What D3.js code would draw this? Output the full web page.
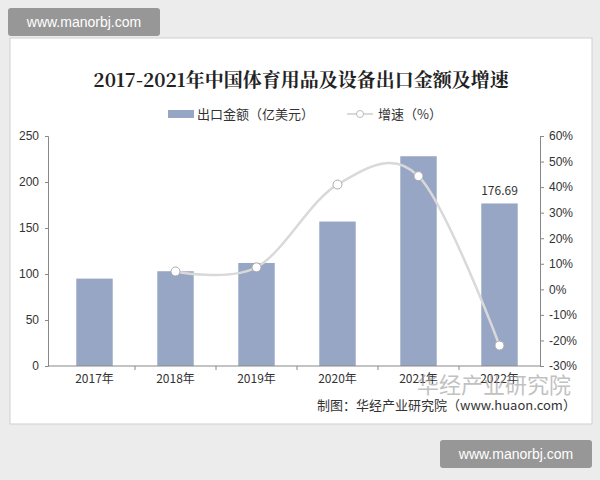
<!DOCTYPE html>
<html><head><meta charset="utf-8">
<script src="https://cdn.jsdelivr.net/npm/d3@7"></script>
<style>body{margin:0;background:#ececec;font-family:"Noto Sans CJK SC","Liberation Sans",sans-serif}</style>
</head><body><div id="chart"></div>
<script>
const years = ['2017年', '2018年', '2019年', '2020年', '2021年', '2022年'];
const exportValues = [95, 103, 112, 157, 228, 176.69];
const growthYears = ['2018年', '2019年', '2020年', '2021年', '2022年'];
const growthRates = [7, 8.6, 41, 44.3, -22];
const leftTicks = [0, 50, 100, 150, 200, 250];
const rightTicks = [-30, -20, -10, 0, 10, 20, 30, 40, 50, 60];

const svg = d3.select('#chart').append('svg').attr('width', 600).attr('height', 480);

// page / card
svg.append('rect').attr('width', 600).attr('height', 480).attr('fill', '#ececec');
svg.append('rect').attr('x', 10).attr('y', 38).attr('width', 582).attr('height', 386)
  .attr('fill', '#fff').attr('stroke', '#cfcfcf');

const x = d3.scaleBand().domain(years).range([54, 540]).paddingInner(0.55).paddingOuter(0.275);
const yL = d3.scaleLinear().domain([0, 250]).range([366, 136]);
const yR = d3.scaleLinear().domain([-30, 60]).range([366, 136]);

svg.append('text').attr('x', 301).attr('y', 87).attr('text-anchor', 'middle')
  .attr('font-family', '"Noto Serif CJK SC","DejaVu Serif",serif').attr('font-weight', 'bold')
  .attr('font-size', 19).attr('fill', '#222').text('2017-2021年中国体育用品及设备出口金额及增速');

// legend
svg.append('rect').attr('x', 168).attr('y', 110).attr('width', 26).attr('height', 8).attr('fill', '#98a6c6');
svg.append('text').attr('x', 197).attr('y', 119).attr('font-size', 13).attr('fill', '#333').text('出口金额（亿美元）');
svg.append('line').attr('x1', 347).attr('x2', 373).attr('y1', 114).attr('y2', 114).attr('stroke', '#ccc').attr('stroke-width', 1.5);
svg.append('circle').attr('cx', 360).attr('cy', 114).attr('r', 3.5).attr('fill', '#fff').attr('stroke', '#bbb');
svg.append('text').attr('x', 378).attr('y', 119).attr('font-size', 13).attr('fill', '#333').text('增速（%）');

// bars
svg.append('g').selectAll('rect').data(exportValues).join('rect')
  .attr('x', (d, i) => x(years[i])).attr('width', x.bandwidth())
  .attr('y', d => yL(d)).attr('height', d => yL(0) - yL(d)).attr('fill', '#98a6c6');
svg.append('text').attr('x', x(years[5]) + x.bandwidth() / 2).attr('y', yL(176.69) - 8)
  .attr('text-anchor', 'middle').attr('font-size', 12).attr('fill', '#333').text('176.69');

// axes
const axisStyle = g => {
  g.selectAll('text').attr('font-size', 12).attr('fill', '#333').attr('font-family', '"Liberation Sans",sans-serif');
  g.selectAll('path,line').attr('stroke', '#888');
};
svg.append('g').attr('transform', 'translate(48,0)')
  .call(d3.axisLeft(yL).tickValues(leftTicks).tickSize(3).tickPadding(6)).call(axisStyle);
svg.append('g').attr('transform', 'translate(540,0)')
  .call(d3.axisRight(yR).tickValues(rightTicks).tickSize(4).tickPadding(5).tickFormat(d => d + '%')).call(axisStyle);
const xa = svg.append('g').attr('transform', 'translate(0,366)')
  .call(d3.axisBottom(x).tickSize(0).tickPadding(8)).call(axisStyle);
xa.select('.domain').attr('d', 'M48,0H540');
xa.selectAll('text').attr('font-family', '"Noto Sans CJK SC",sans-serif');
const bounds = years.map(y => x(y) - x.step() * x.paddingInner() / 2).slice(1);
xa.selectAll('.sep').data(bounds).join('line').attr('x1', d => d).attr('x2', d => d)
  .attr('y1', 0).attr('y2', 4).attr('stroke', '#888');

// growth line
const pts = growthRates.map((d, i) => [x(growthYears[i]) + x.bandwidth() / 2, yR(d)]);
svg.append('path').attr('d', d3.line().curve(d3.curveCardinal.tension(0))(pts))
  .attr('fill', 'none').attr('stroke', '#d9d9d9').attr('stroke-width', 2.5);
svg.append('g').selectAll('circle').data(pts).join('circle')
  .attr('cx', d => d[0]).attr('cy', d => d[1]).attr('r', 4.5)
  .attr('fill', '#fff').attr('stroke', '#aaa').attr('stroke-width', 1);

// source
svg.append('text').attr('x', 317).attr('y', 410).attr('font-size', 13).attr('fill', '#333')
  .text('制图：华经产业研究院（www.huaon.com）');
svg.append('text').attr('x', 417).attr('y', 393).attr('font-size', 22).attr('fill', '#999').attr('opacity', 0.6)
  .text('华经产业研究院');

// watermark boxes
[[8, 8, 'www.manorbj.com'], [440, 440, 'www.manorbj.com']].forEach(([bx, by, t]) => {
  svg.append('rect').attr('x', bx).attr('y', by).attr('width', 152).attr('height', 28).attr('rx', 3)
    .attr('fill', '#888').attr('opacity', 0.85);
  svg.append('text').attr('x', bx + 76).attr('y', by + 19).attr('text-anchor', 'middle')
    .attr('font-size', 14).attr('fill', '#fff').attr('font-family', '"Liberation Sans",sans-serif').text(t);
});
</script></body></html>
